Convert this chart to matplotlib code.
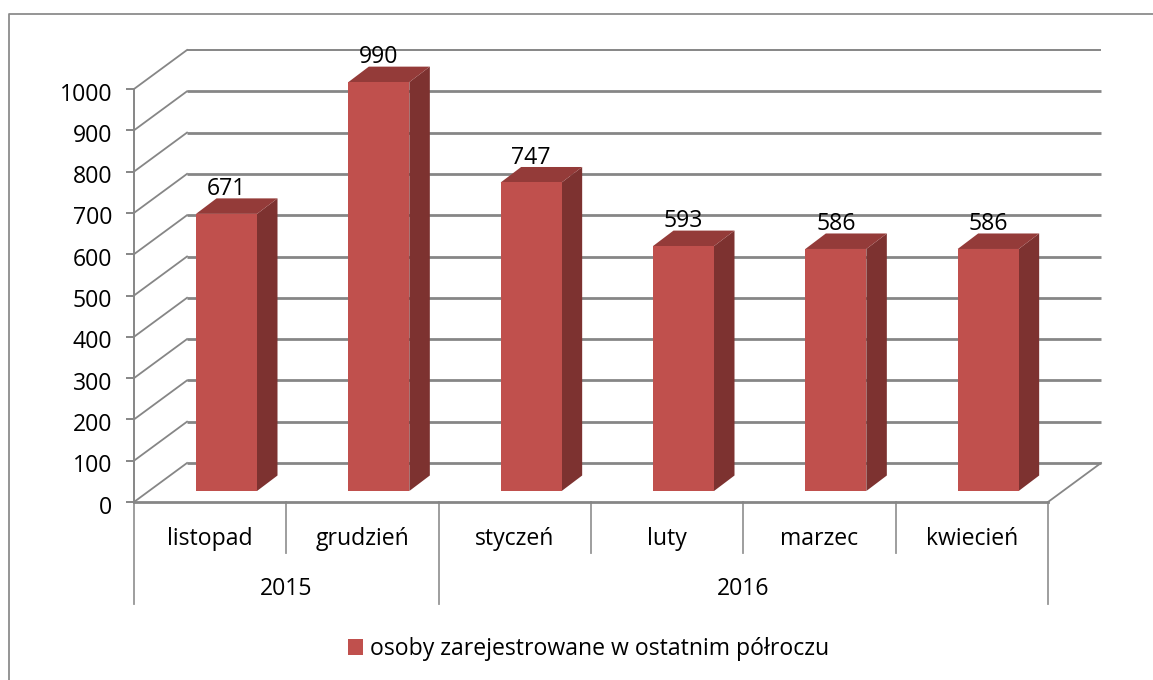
import matplotlib
matplotlib.use("Agg")
import matplotlib.pyplot as plt
from matplotlib.lines import Line2D
from matplotlib.patches import Polygon, Patch, Rectangle
from matplotlib.transforms import ScaledTranslation

plt.rcParams['font.family'] = ['Open Sans', 'DejaVu Sans']

months = ["listopad", "grudzień", "styczeń", "luty", "marzec", "kwiecień"]
years = ["2015", "2016"]
year_spans = [2, 4]
values = [671, 990, 747, 593, 586, 586]
series_name = "osoby zarejestrowane w ostatnim półroczu"
y_ticks = list(range(0, 1001, 100))

W, H = 1153, 680
X0, X1, Y0, Y1 = 134.0, 1048.0, 502.0, 89.0   # plot box in pixels (y from top)
GRID = "#868686"
FRONT, SIDE, TOP = "#C0504D", "#7D3230", "#943B39"
FS = 16.6

fig = plt.figure(figsize=(W / 100, H / 100), dpi=100, facecolor="white")
ax = fig.add_axes([X0 / W, 1 - Y0 / H, (X1 - X0) / W, (Y0 - Y1) / H])
ax.set_xlim(0, len(months))
ax.set_ylim(0, 1000)
ax.patch.set_visible(False)

ux = (X1 - X0) / len(months)       # px per category
uy = (Y0 - Y1) / 1000              # px per value
dx_wall, dy_wall = 53 / ux, 39 / uy          # floor depth
dx_off, dy_off = 15 / ux, 11 / uy            # bar front offset
dx_bar, dy_bar = 20.5 / ux, 15.5 / uy        # bar depth
bar_w = 61 / ux
bar_left = 47 / ux                            # bar start inside the category

# chart frame: only the left and top edges are inside the picture
fig.add_artist(Line2D([8.5 / W, 8.5 / W, 1.0], [0, 1 - 13.5 / H, 1 - 13.5 / H],
                      color="#8C8C8C", lw=1.3, transform=fig.transFigure))

# gridlines on the back wall and side wall
for v in y_ticks:
    ax.plot([0, dx_wall], [v, v + dy_wall], color=GRID, lw=1.3, clip_on=False, zorder=1)
    ax.plot([dx_wall, len(months) + dx_wall], [v + dy_wall, v + dy_wall],
            color=GRID, lw=1.4 if v == y_ticks[-1] else 2.0, clip_on=False, zorder=1,
            solid_capstyle="butt")
ax.plot([len(months), len(months) + dx_wall], [0, dy_wall], color=GRID, lw=1.3,
        clip_on=False, zorder=1)

# bars as three faces
for i, v in enumerate(values):
    xl = i + bar_left + dx_off
    xr = xl + bar_w
    b = dy_off
    t = v + dy_off
    ax.add_patch(Polygon([(xr, b), (xr + dx_bar, b + dy_bar), (xr + dx_bar, t + dy_bar), (xr, t)],
                         fc=SIDE, ec="none", clip_on=False, zorder=3))
    ax.add_patch(Polygon([(xl, t), (xl + dx_bar, t + dy_bar), (xr + dx_bar, t + dy_bar), (xr, t)],
                         fc=TOP, ec="none", clip_on=False, zorder=3))
    ax.add_patch(Rectangle((xl, b), bar_w, v, fc=FRONT, ec="none", clip_on=False, zorder=3))
    ax.annotate(str(v), (xl + bar_w / 2, t + dy_bar), xytext=(0, -2),
                textcoords="offset points", ha="center", va="bottom", fontsize=FS,
                color="black", zorder=5, annotation_clip=False)

# axes
for s in ("top", "right"):
    ax.spines[s].set_visible(False)
ax.spines["left"].set_color(GRID)
ax.spines["left"].set_linewidth(1.4)
ax.spines["bottom"].set_color(GRID)
ax.spines["bottom"].set_linewidth(2.0)
ax.set_yticks(y_ticks)
ax.tick_params(axis="y", length=5.8, width=1.4, color=GRID, pad=10, labelsize=FS)
ax.set_xticks([i + 0.5 for i in range(len(months))], months)
ax.tick_params(axis="x", length=0, pad=18, labelsize=FS)
label_shift = ScaledTranslation(0, -2.5 / 100, fig.dpi_scale_trans)
for lab in ax.get_yticklabels():
    lab.set_transform(lab.get_transform() + label_shift)

# category separators and year labels below the axis
trans = ax.get_xaxis_transform()
for i in range(1, len(months)):
    if i != year_spans[0]:
        ax.plot([i, i], [0, -51 / (Y0 - Y1)], transform=trans, color="#969696", lw=1.3, clip_on=False)
start = 0
ax.plot([0, 0], [0, -102 / (Y0 - Y1)], transform=trans, color="#969696", lw=1.3, clip_on=False)
for name, span in zip(years, year_spans):
    end = start + span
    ax.plot([end, end], [0, -102 / (Y0 - Y1)], transform=trans, color="#969696", lw=1.3, clip_on=False)
    ax.text((start + end) / 2, -87 / (Y0 - Y1), name, transform=trans, ha="center", va="center", fontsize=FS)
    start = end

fig.legend(handles=[Patch(fc=FRONT, ec="none", label=series_name)], loc="center",
           bbox_to_anchor=(589 / W, 1 - 649 / H), frameon=False, fontsize=FS,
           handlelength=0.65, handleheight=0.65, handletextpad=0.3)

fig.savefig("out.png", dpi=100, facecolor="white")
